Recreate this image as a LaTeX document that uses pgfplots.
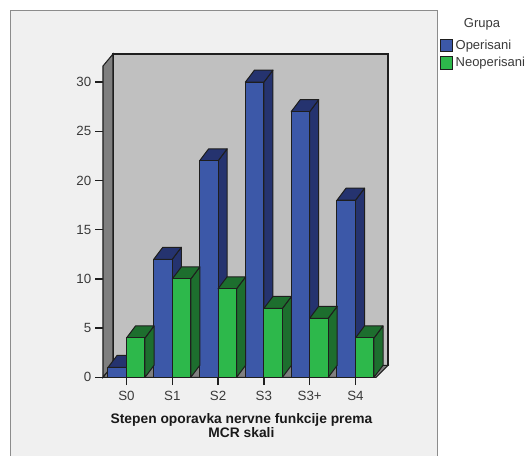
\documentclass[border=0pt]{standalone}
\usepackage{pgfplots}
\pgfplotsset{compat=1.18}
\usepackage{pgfplotstable}
\usepackage{fontspec}
\setmainfont{Liberation Sans}
\definecolor{panel}{HTML}{F0F0F0}
\definecolor{panelb}{HTML}{8C8C8C}
\definecolor{wall}{HTML}{C0C0C0}
\definecolor{side}{HTML}{7F7F7F}
\definecolor{bluef}{HTML}{3C58A8}
\definecolor{blued}{HTML}{25336F}
\definecolor{greenf}{HTML}{2DB84B}
\definecolor{greend}{HTML}{1D6E2E}
\definecolor{edge}{HTML}{1E1E1E}
\definecolor{txt}{HTML}{3A3A3A}
\pgfplotstableread{
x v
0 1
1 12
2 22
3 30
4 27
5 18
}\operisani
\pgfplotstableread{
x v
0 4
1 10
2 9
3 7
4 6
5 4
}\neoperisani
% depth faces of one bar: left edge, value, colour
\newcommand\depthfaces[3]{%
  \pgfmathsetmacro\xl{#1}%
  \pgfmathsetmacro\xr{#1+0.404}%
  \pgfmathsetmacro\xd{#1+0.404+0.197}%
  \pgfmathsetmacro\xe{#1+0.197}%
  \pgfmathsetmacro\vt{#2+1.22}%
  \addplot[forget plot,fill=#3,draw=edge,line width=0.75pt,line join=round] coordinates {(\xr,0) (\xd,1.22) (\xd,\vt) (\xr,#2)} -- cycle;
  \addplot[forget plot,fill=#3,draw=edge,line width=0.75pt,line join=round] coordinates {(\xl,#2) (\xe,\vt) (\xd,\vt) (\xr,#2)} -- cycle;
}
\begin{document}
\begin{tikzpicture}
\useasboundingbox (0,0) rectangle (394.5pt,-342pt);
\begin{scope}[x=0.75pt,y=-0.75pt]
\fill[white] (0,0) rectangle (526,456);
\fill[panel] (10,10) rectangle (438,456);
\draw[panelb,line width=1pt] (10.5,456) -- (10.5,10.5) -- (437.5,10.5) -- (437.5,456);
\node[font=\fontsize{9.75pt}{11pt}\selectfont,text=txt,inner sep=0pt] at (482,24.5) {Grupa};
\end{scope}
\begin{axis}[
  at={(77.25pt,-283pt)},anchor=south west,
  scale only axis,width=213.75pt,height=242.5pt,
  xmin=-0.513,xmax=5.71,ymin=0,ymax=32.86,
  clip=false,
  axis line style={draw=none},
  xtick={0,1,2,3,4,5},xticklabels={S0,S1,S2,S3,S3+,S4},
  ytick={0,5,10,15,20,25,30},
  xtick pos=bottom,ytick pos=left,
  tick align=outside,major tick length=5.8pt,
  tick style={draw=edge,line width=1.1pt},
  /pgf/number format/assume math mode=true,
  tick label style={font=\fontsize{10pt}{11pt}\selectfont,text=txt},
  xticklabel style={yshift=-0.8pt},
  yticklabel style={xshift=0.5pt},
  xlabel={Stepen oporavka nervne funkcije prema\\MCR skali},
  every axis x label/.style={at={(axis cs:2.51,0)},anchor=north,yshift=-23.6pt,align=center,
    font=\fontsize{10.35pt}{10.5pt}\selectfont\bfseries,text=black!90},
  legend style={at={(axis cs:6.845,34.55)},anchor=north west,draw=none,fill=none,inner sep=0pt,outer sep=0pt,
    font=\fontsize{9.75pt}{11pt}\selectfont,text=txt,row sep=0.4pt,
    /tikz/every even column/.append style={column sep=2pt}},
  legend cell align=left,
  legend image code/.code={\draw[#1,draw=edge,line width=0.75pt] (0pt,-4.6pt) rectangle (9pt,4.6pt);},
]
% walls and floor
\addplot[forget plot,fill=wall,draw=edge,line width=0.8pt] coordinates {(-0.295,1.22) (-0.295,32.86) (5.71,32.86) (5.71,1.22)} -- cycle;
\addplot[forget plot,fill=side,draw=edge,line width=0.8pt] coordinates {(-0.513,0) (-0.295,1.22) (-0.295,32.86) (-0.513,31.64)} -- cycle;
\addplot[forget plot,fill=side,draw=edge,line width=0.8pt] coordinates {(-0.513,0) (-0.295,1.22) (5.71,1.22) (5.448,0)} -- cycle;
% blue depth faces
\depthfaces{-0.404}{1}{blued}
\depthfaces{0.596}{12}{blued}
\depthfaces{1.596}{22}{blued}
\depthfaces{2.596}{30}{blued}
\depthfaces{3.596}{27}{blued}
\depthfaces{4.596}{18}{blued}
\addplot[ybar,bar width=0.404,bar shift=-0.202,fill=bluef,draw=edge,line width=0.75pt] table[x=x,y=v] {\operisani};
\addlegendentry{Operisani}
% green depth faces
\depthfaces{0}{4}{greend}
\depthfaces{1}{10}{greend}
\depthfaces{2}{9}{greend}
\depthfaces{3}{7}{greend}
\depthfaces{4}{6}{greend}
\depthfaces{5}{4}{greend}
\addplot[ybar,bar width=0.404,bar shift=0.202,fill=greenf,draw=edge,line width=0.75pt] table[x=x,y=v] {\neoperisani};
\addlegendentry{Neoperisani}
\addplot[forget plot,draw=edge,line width=0.9pt] coordinates {(-0.513,0) (5.448,0)};
\end{axis}
\end{tikzpicture}
\end{document}
